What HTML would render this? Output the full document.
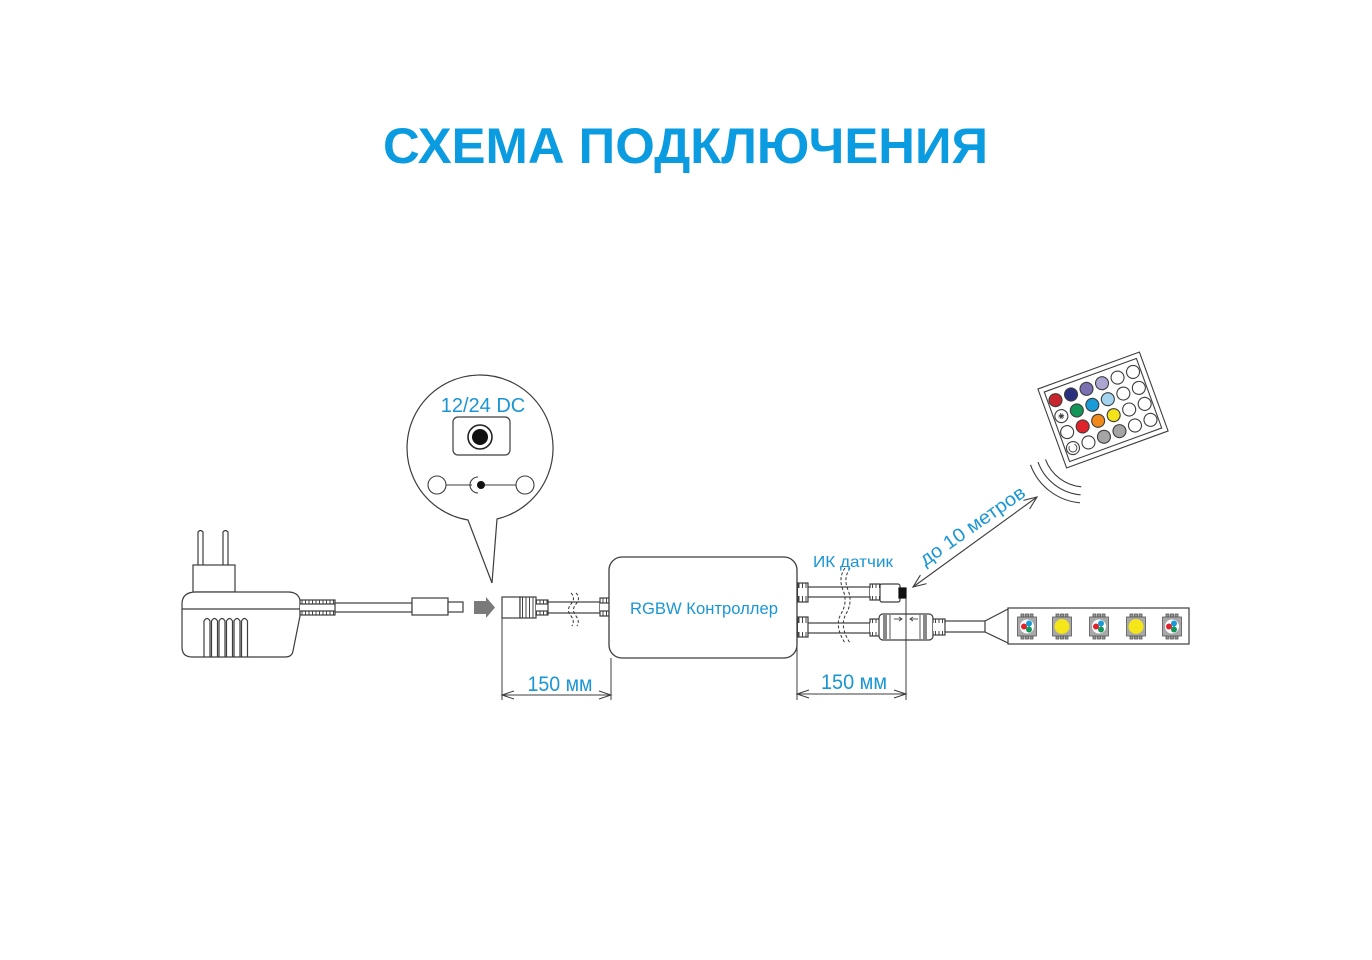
<!DOCTYPE html>
<html><head><meta charset="utf-8"><style>
html,body{margin:0;padding:0;background:#fff;}
svg{display:block;}
</style></head><body>
<svg width="1372" height="960" viewBox="0 0 1372 960" xmlns="http://www.w3.org/2000/svg" font-family="'Liberation Sans', Arial, sans-serif">
<defs>
<pattern id="rib" width="3.5" height="10" patternUnits="userSpaceOnUse">
<rect width="3.5" height="10" fill="#fff"/>
<line x1="1" y1="0" x2="1" y2="10" stroke="#444" stroke-width="1"/>
</pattern>
</defs>
<rect width="1372" height="960" fill="#fff"/>

<!-- Title -->
<text x="685.5" y="163" text-anchor="middle" font-size="50" font-weight="bold" textLength="605" lengthAdjust="spacingAndGlyphs" fill="#0b9be0">СХЕМА ПОДКЛЮЧЕНИЯ</text>

<g fill="none" stroke="#3d3d3d" stroke-width="1.2">
<!-- Adapter plug -->
<path d="M198 565 L198 532 Q200.5 529 203 532 L203 565" fill="#fff"/>
<path d="M223 565 L223 532 Q225.5 529 228 532 L228 565" fill="#fff"/>
<rect x="193" y="565" width="42" height="27" fill="#fff"/>
<!-- Adapter body -->
<path d="M182 604 Q182 592 196 592 L288 592 Q298 592 300 600 L300 616 L293 651 Q292 657 285 657 L192 657 Q182 657 182 647 Z" fill="#fff"/>
<line x1="182" y1="609" x2="300" y2="609"/>
<path d="M204 657 L204 621 Q207 616 210 621 L210 657"/>
<path d="M211.5 657 L211.5 621 Q214.5 616 217.5 621 L217.5 657"/>
<path d="M219 657 L219 621 Q222 616 225 621 L225 657"/>
<path d="M226.5 657 L226.5 621 Q229.5 616 232.5 621 L232.5 657"/>
<path d="M234 657 L234 621 Q237 616 240 621 L240 657"/>
<path d="M241.5 657 L241.5 621 Q244.5 616 247.5 621 L247.5 657"/>
<!-- Adapter relief -->
<rect x="300" y="600" width="35" height="15" fill="url(#rib)"/>
<rect x="300" y="604" width="35" height="7" fill="#fff" stroke="none"/>
<line x1="300" y1="604" x2="335" y2="604"/>
<line x1="300" y1="611" x2="335" y2="611"/>
<!-- Cable -->
<rect x="335" y="603" width="77" height="9" fill="#fff"/>
<!-- plug -->
<rect x="412" y="598" width="36" height="17" fill="#fff"/>
<rect x="448" y="602" width="15" height="10" fill="#fff"/>
</g>
<!-- grey arrow -->
<path d="M474 601 L486 601 L486 597 L495 607.5 L486 618 L486 614 L474 614 Z" fill="#7a7a7a"/>

<!-- Magnifier bubble -->
<path d="M468 520 L492 583 L497 519 A73 73 0 1 0 468 520 Z" fill="#fff" stroke="#3d3d3d" stroke-width="1.2"/>
<text x="483" y="412" text-anchor="middle" font-size="20" fill="#1a96d4">12/24 DC</text>
<rect x="453" y="417" width="57" height="38" rx="5" fill="#fff" stroke="#3d3d3d" stroke-width="1.2"/>
<circle cx="480" cy="437" r="12" fill="#fff" stroke="#222" stroke-width="1.6"/>
<circle cx="480" cy="437" r="8" fill="#111"/>
<g fill="#fff" stroke="#3d3d3d" stroke-width="1.1">
<circle cx="437" cy="485" r="9"/>
<circle cx="525" cy="485" r="9"/>
<line x1="446" y1="485" x2="472" y2="485"/>
<line x1="484" y1="485" x2="516" y2="485"/>
<path d="M478 477 A8 8 0 0 0 478 493" fill="none"/>
</g>
<circle cx="481" cy="485" r="4" fill="#111"/>

<!-- Female connector left -->
<g fill="#fff" stroke="#3d3d3d" stroke-width="1.2">
<rect x="502" y="597" width="18" height="21"/>
<rect x="520" y="597" width="16" height="21" fill="url(#rib)"/>
<rect x="536" y="600" width="12" height="15" fill="url(#rib)"/>
<rect x="536" y="604" width="12" height="7" stroke="none"/>
<line x1="536" y1="604" x2="548" y2="604"/>
<line x1="536" y1="611" x2="548" y2="611"/>
<rect x="548" y="602" width="52" height="11"/>
<rect x="600" y="598" width="9" height="18" fill="url(#rib)"/>
<rect x="600" y="603" width="9" height="8" stroke="none"/>
<line x1="600" y1="603" x2="609" y2="603"/>
<line x1="600" y1="611" x2="609" y2="611"/>
</g>
<path d="M576 593 Q581 598 576 604 Q571 610 576 616 Q580 621 577 626" fill="none" stroke="#333" stroke-width="1" stroke-dasharray="3,2"/>
<path d="M571 593 Q576 598 571 604 Q566 610 571 616 Q575 621 572 626" fill="none" stroke="#333" stroke-width="1" stroke-dasharray="3,2"/>

<!-- Controller -->
<rect x="609" y="557" width="188" height="101" rx="13" fill="#fff" stroke="#3d3d3d" stroke-width="1.3"/>
<text x="704" y="614" text-anchor="middle" font-size="16.5" fill="#1a96d4" textLength="148" lengthAdjust="spacingAndGlyphs">RGBW Контроллер</text>

<!-- Right cables -->
<g fill="#fff" stroke="#3d3d3d" stroke-width="1.2">
<rect x="798" y="583" width="10" height="19" fill="url(#rib)"/>
<rect x="798" y="588" width="10" height="8" stroke="none"/>
<rect x="808" y="587" width="62" height="10"/>
<rect x="870" y="584" width="10" height="16" fill="url(#rib)"/>
<rect x="870" y="588" width="10" height="8" stroke="none"/>
<rect x="880" y="584" width="20" height="18" rx="2"/>
<rect x="899" y="588" width="7" height="10" fill="#111" stroke="#111"/>

<rect x="798" y="617" width="10" height="20" fill="url(#rib)"/>
<rect x="798" y="623" width="10" height="9" stroke="none"/>
<rect x="808" y="623" width="62" height="10"/>
<rect x="870" y="619" width="10" height="17" fill="url(#rib)"/>
<rect x="870" y="623" width="10" height="9" stroke="none"/>
<rect x="879" y="614" width="54" height="26" rx="4"/>
<rect x="933" y="619" width="12" height="16" fill="url(#rib)"/>
<rect x="933" y="623" width="12" height="8" stroke="none"/>
<rect x="945" y="621" width="40" height="11"/>
</g>
<rect x="883" y="615" width="4" height="24" fill="#888"/>
<line x1="890" y1="615" x2="890" y2="639" stroke="#555" stroke-width="1"/>
<rect x="923" y="615" width="4" height="24" fill="#888"/>
<line x1="920" y1="615" x2="920" y2="639" stroke="#555" stroke-width="1"/>
<g stroke="#444" stroke-width="0.9" fill="none">
<line x1="894" y1="619" x2="902" y2="619"/><path d="M899 617 L902 619 L899 621"/>
<line x1="910" y1="619" x2="918" y2="619"/><path d="M913 617 L910 619 L913 621"/>
</g>
<path d="M850 568 Q843 578 848 590 Q853 602 846 614 Q839 626 850 643" fill="none" stroke="#333" stroke-width="1" stroke-dasharray="3,2"/>
<path d="M845 568 Q838 578 843 590 Q848 602 841 614 Q834 626 845 643" fill="none" stroke="#333" stroke-width="1" stroke-dasharray="3,2"/>
<text x="853" y="567" text-anchor="middle" font-size="16" fill="#1a96d4" textLength="80" lengthAdjust="spacingAndGlyphs">ИК датчик</text>

<!-- LED strip -->
<g fill="#fff" stroke="#3d3d3d" stroke-width="1.2">
<path d="M985 621 L1008 609 M985 632 L1008 643"/>
<rect x="1008" y="608" width="181" height="36"/>
</g>
<g stroke="#555" stroke-width="0.8">
<g transform="translate(1027,626.5)">
<rect x="-6" y="-12.5" width="3" height="3" fill="#999"/><rect x="-1.5" y="-12.5" width="3" height="3" fill="#999"/><rect x="3" y="-12.5" width="3" height="3" fill="#999"/>
<rect x="-6" y="9.5" width="3" height="3" fill="#999"/><rect x="-1.5" y="9.5" width="3" height="3" fill="#999"/><rect x="3" y="9.5" width="3" height="3" fill="#999"/>
<rect x="-9.5" y="-9.5" width="19" height="19" fill="#a8a8a8"/><circle r="7" fill="#fff" stroke="none"/>
<circle cx="-3" cy="0" r="3" fill="#e0222a" stroke="none"/><circle cx="2" cy="-3" r="3" fill="#1a9ad6" stroke="none"/><circle cx="2" cy="3" r="3" fill="#13955a" stroke="none"/></g>
<g transform="translate(1062,626.5)">
<rect x="-6" y="-12.5" width="3" height="3" fill="#999"/><rect x="-1.5" y="-12.5" width="3" height="3" fill="#999"/><rect x="3" y="-12.5" width="3" height="3" fill="#999"/>
<rect x="-6" y="9.5" width="3" height="3" fill="#999"/><rect x="-1.5" y="9.5" width="3" height="3" fill="#999"/><rect x="3" y="9.5" width="3" height="3" fill="#999"/>
<rect x="-9.5" y="-9.5" width="19" height="19" fill="#a8a8a8"/><circle r="7.5" fill="#f5e61a" stroke="none"/></g>
<g transform="translate(1099,626.5)">
<rect x="-6" y="-12.5" width="3" height="3" fill="#999"/><rect x="-1.5" y="-12.5" width="3" height="3" fill="#999"/><rect x="3" y="-12.5" width="3" height="3" fill="#999"/>
<rect x="-6" y="9.5" width="3" height="3" fill="#999"/><rect x="-1.5" y="9.5" width="3" height="3" fill="#999"/><rect x="3" y="9.5" width="3" height="3" fill="#999"/>
<rect x="-9.5" y="-9.5" width="19" height="19" fill="#a8a8a8"/><circle r="7" fill="#fff" stroke="none"/>
<circle cx="-3" cy="0" r="3" fill="#e0222a" stroke="none"/><circle cx="2" cy="-3" r="3" fill="#1a9ad6" stroke="none"/><circle cx="2" cy="3" r="3" fill="#13955a" stroke="none"/></g>
<g transform="translate(1136,626.5)">
<rect x="-6" y="-12.5" width="3" height="3" fill="#999"/><rect x="-1.5" y="-12.5" width="3" height="3" fill="#999"/><rect x="3" y="-12.5" width="3" height="3" fill="#999"/>
<rect x="-6" y="9.5" width="3" height="3" fill="#999"/><rect x="-1.5" y="9.5" width="3" height="3" fill="#999"/><rect x="3" y="9.5" width="3" height="3" fill="#999"/>
<rect x="-9.5" y="-9.5" width="19" height="19" fill="#a8a8a8"/><circle r="7.5" fill="#f5e61a" stroke="none"/></g>
<g transform="translate(1172,626.5)">
<rect x="-6" y="-12.5" width="3" height="3" fill="#999"/><rect x="-1.5" y="-12.5" width="3" height="3" fill="#999"/><rect x="3" y="-12.5" width="3" height="3" fill="#999"/>
<rect x="-6" y="9.5" width="3" height="3" fill="#999"/><rect x="-1.5" y="9.5" width="3" height="3" fill="#999"/><rect x="3" y="9.5" width="3" height="3" fill="#999"/>
<rect x="-9.5" y="-9.5" width="19" height="19" fill="#a8a8a8"/><circle r="7" fill="#fff" stroke="none"/>
<circle cx="-3" cy="0" r="3" fill="#e0222a" stroke="none"/><circle cx="2" cy="-3" r="3" fill="#1a9ad6" stroke="none"/><circle cx="2" cy="3" r="3" fill="#13955a" stroke="none"/></g>
</g>

<!-- Dimension lines -->
<g stroke="#3d3d3d" stroke-width="1" fill="none">
<line x1="502" y1="618" x2="502" y2="700"/>
<line x1="611" y1="658" x2="611" y2="700"/>
<line x1="502" y1="695" x2="611" y2="695"/>
<path d="M514 691 L502 695 L514 699"/>
<path d="M599 691 L611 695 L599 699"/>
<line x1="797" y1="640" x2="797" y2="700"/>
<line x1="906" y1="598" x2="906" y2="700"/>
<line x1="797" y1="694" x2="906" y2="694"/>
<path d="M809 690 L797 694 L809 698"/>
<path d="M894 690 L906 694 L894 698"/>
</g>
<text x="560" y="691" text-anchor="middle" font-size="21" fill="#1a96d4" textLength="65" lengthAdjust="spacingAndGlyphs">150 мм</text>
<text x="854" y="689" text-anchor="middle" font-size="21" fill="#1a96d4" textLength="66" lengthAdjust="spacingAndGlyphs">150 мм</text>

<!-- Range arrow -->
<g stroke="#3d3d3d" stroke-width="1.1" fill="none">
<line x1="913" y1="587" x2="1037" y2="497"/>
<path d="M926.6 583.6 L913 587 L920.4 575.1"/>
<path d="M1029.6 508.9 L1037 497 L1023.4 500.4"/>
</g>
<text transform="translate(976,531) rotate(-35)" text-anchor="middle" font-size="19" fill="#1a96d4" textLength="124" lengthAdjust="spacingAndGlyphs">до 10 метров</text>

<!-- Signal arcs -->
<g stroke="#3d3d3d" stroke-width="1.1" fill="none">
<path d="M1045.5 459.4 A42 42 0 0 0 1081.3 486.8"/>
<path d="M1038 462.1 A50 50 0 0 0 1080.6 494.8"/>
<path d="M1030.5 464.8 A58 58 0 0 0 1079.9 502.8"/>
</g>

<!-- Remote -->
<g transform="translate(1103,410) rotate(-20)" stroke="#3d3d3d" stroke-width="1.1">
<rect x="-54" y="-42" width="108" height="84" fill="#fff"/>
<rect x="-49" y="-37" width="98" height="74" fill="none"/>
<!-- row 1 -->
<circle cx="-41.25" cy="-25.5" r="6.5" fill="#c8262e"/>
<circle cx="-24.75" cy="-25.5" r="6.5" fill="#2a2e7e"/>
<circle cx="-8.25" cy="-25.5" r="6.5" fill="#7a6fb0"/>
<circle cx="8.25" cy="-25.5" r="6.5" fill="#aba5d2"/>
<circle cx="24.75" cy="-25.5" r="6.5" fill="#fff"/>
<circle cx="41.25" cy="-25.5" r="6.5" fill="#fff"/>
<!-- row 2 -->
<circle cx="-41.25" cy="-8.5" r="6.5" fill="#fff"/>
<circle cx="-24.75" cy="-8.5" r="6.5" fill="#13955a"/>
<circle cx="-8.25" cy="-8.5" r="6.5" fill="#1a9ad6"/>
<circle cx="8.25" cy="-8.5" r="6.5" fill="#a3d4ef"/>
<circle cx="24.75" cy="-8.5" r="6.5" fill="#fff"/>
<circle cx="41.25" cy="-8.5" r="6.5" fill="#fff"/>
<!-- row 3 -->
<circle cx="-41.25" cy="8.5" r="6.5" fill="#fff"/>
<circle cx="-24.75" cy="8.5" r="6.5" fill="#e0222a"/>
<circle cx="-8.25" cy="8.5" r="6.5" fill="#f08a1c"/>
<circle cx="8.25" cy="8.5" r="6.5" fill="#f5e31a"/>
<circle cx="24.75" cy="8.5" r="6.5" fill="#fff"/>
<circle cx="41.25" cy="8.5" r="6.5" fill="#fff"/>
<!-- row 4 -->
<circle cx="-41.25" cy="25.5" r="6.5" fill="#fff"/>
<circle cx="-24.75" cy="25.5" r="6.5" fill="#fff"/>
<circle cx="-8.25" cy="25.5" r="6.5" fill="#a5a5a5"/>
<circle cx="8.25" cy="25.5" r="6.5" fill="#a5a5a5"/>
<circle cx="24.75" cy="25.5" r="6.5" fill="#fff"/>
<circle cx="41.25" cy="25.5" r="6.5" fill="#fff"/>
<g stroke-width="0.9" fill="none">
<path d="M-44.25 -8.5 L-38.25 -8.5 M-41.25 -11.5 L-41.25 -5.5 M-43.3 -10.5 L-39.2 -6.5 M-43.3 -6.5 L-39.2 -10.5"/>
<path d="M-38.5 22.5 A4 4 0 1 1 -44 22.5"/>
</g>
</g>
</svg>
</body></html>
